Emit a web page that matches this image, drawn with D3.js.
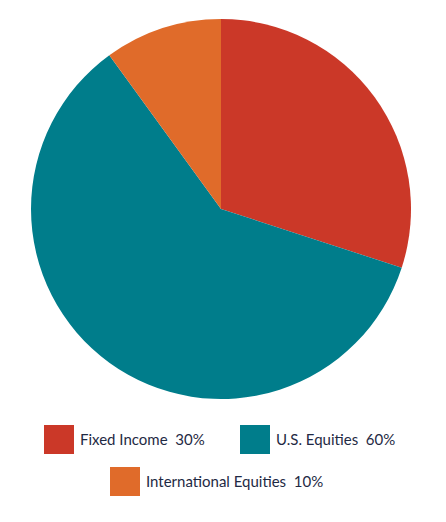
<!DOCTYPE html>
<html><head><meta charset="utf-8">
<script src="https://cdn.jsdelivr.net/npm/d3@7"></script>
<style>body{margin:0;background:#fff}svg{display:block}</style>
</head><body>
<svg id="c" width="446" height="522"></svg>
<script>
const categories = ["Fixed Income", "U.S. Equities", "International Equities"];
const values = [30, 60, 10];
const colors = ["#CB3828", "#007D8B", "#E06B2A"];

const svg = d3.select("#c");
const cx = 221, cy = 209, r = 190;
const pie = d3.pie().sort(null).value(d => d)(values);
const arc = d3.arc().innerRadius(0).outerRadius(r);
svg.append("g").attr("transform", `translate(${cx},${cy})`)
  .selectAll("path").data(pie).join("path")
  .attr("d", arc).attr("fill", (d, i) => colors[i]);

const legendPos = [[44, 425], [240, 425], [110, 467]];
const lg = svg.append("g").selectAll("g").data(categories).join("g")
  .attr("transform", (d, i) => `translate(${legendPos[i][0]},${legendPos[i][1]})`);
lg.append("rect").attr("width", 30).attr("height", 29).attr("fill", (d, i) => colors[i]);
lg.append("text").attr("x", 36).attr("y", 20)
  .attr("font-family", "Lato, sans-serif").attr("font-size", 15).attr("fill", "#1f2a44")
  .attr("xml:space", "preserve")
  .text((d, i) => `${d}  ${values[i]}%`);
</script>
</body></html>
